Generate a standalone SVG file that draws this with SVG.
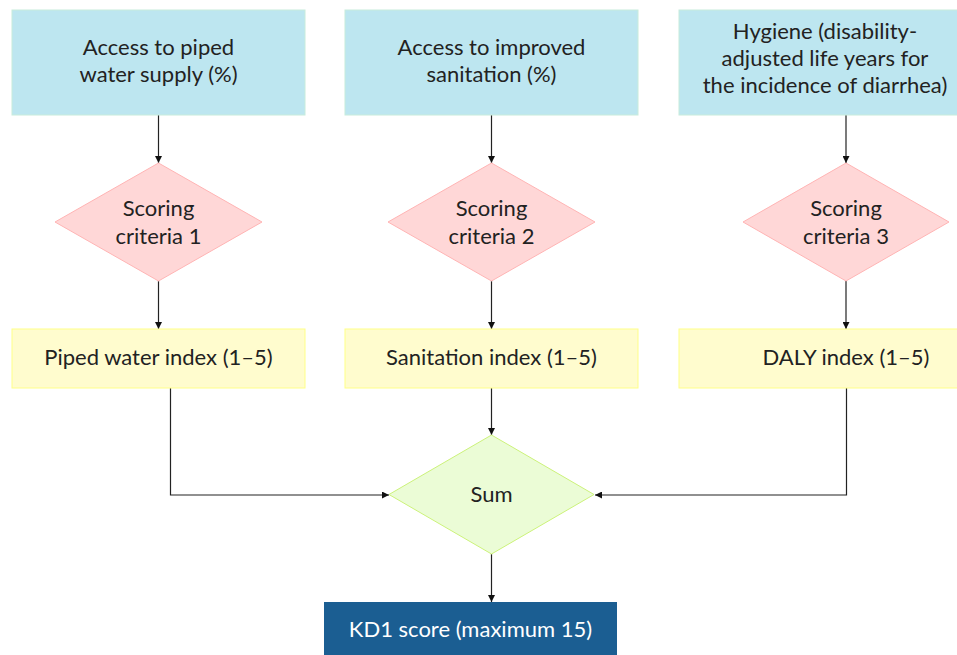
<svg xmlns="http://www.w3.org/2000/svg" width="957" height="655" viewBox="0 0 957 655">
<style>
.t{font-family:Lato,"Open Sans","Liberation Sans",sans-serif;font-size:22px;fill:#222;text-anchor:middle}
.w{fill:#fff}
.src{fill:#bde6f0;stroke:#c8ecdc;stroke-width:1}
.dia{fill:#ffd7d7;stroke:#ffb4b4;stroke-width:1}
.idx{fill:#fffcce;stroke:#ffff88;stroke-width:1}
.sum{fill:#ebfcd6;stroke:#ccf27a;stroke-width:1}
.res{fill:#1b5e92}
.c{fill:none;stroke:#222;stroke-width:1.2}
</style>
<defs>
<marker id="ah" viewBox="0 0 10 10" refX="10" refY="5" markerWidth="7" markerHeight="7" markerUnits="userSpaceOnUse" orient="auto">
<path d="M0,0L10,5L0,10z" fill="#111"/>
</marker>
</defs>
<rect width="957" height="655" fill="#fff"/>
<g id="connectors">
<path class="c" d="M158.5,115V163" marker-end="url(#ah)"/>
<path class="c" d="M491.5,115V163" marker-end="url(#ah)"/>
<path class="c" d="M846,115V163" marker-end="url(#ah)"/>
<path class="c" d="M158.5,281V329" marker-end="url(#ah)"/>
<path class="c" d="M491.5,281V329" marker-end="url(#ah)"/>
<path class="c" d="M846,281V329" marker-end="url(#ah)"/>
<path class="c" d="M170.5,388V495H389" marker-end="url(#ah)"/>
<path class="c" d="M491.5,388V435" marker-end="url(#ah)"/>
<path class="c" d="M846.5,388V495H595" marker-end="url(#ah)"/>
<path class="c" d="M491.5,554V602" marker-end="url(#ah)"/>
</g>
<g id="src1">
<rect class="src" x="12" y="10" width="293" height="105"/>
<text class="t" x="158.5" y="55">Access to piped</text>
<text class="t" x="158.5" y="82">water supply (%)</text>
</g>
<g id="src2">
<rect class="src" x="345" y="10" width="293" height="105"/>
<text class="t" x="491.5" y="55">Access to improved</text>
<text class="t" x="491.5" y="82">sanitation (%)</text>
</g>
<g id="src3">
<rect class="src" x="679" y="10" width="293" height="105"/>
<text class="t" x="825" y="39">Hygiene (disability-</text>
<text class="t" x="825" y="66">adjusted life years for</text>
<text class="t" x="825" y="93">the incidence of diarrhea)</text>
</g>
<g id="crit1">
<polygon class="dia" points="158.5,163 262,222 158.5,281 55,222"/>
<text class="t" x="158.5" y="216">Scoring</text>
<text class="t" x="158.5" y="244">criteria 1</text>
</g>
<g id="crit2">
<polygon class="dia" points="491.5,163 595,222 491.5,281 388,222"/>
<text class="t" x="491.5" y="216">Scoring</text>
<text class="t" x="491.5" y="244">criteria 2</text>
</g>
<g id="crit3">
<polygon class="dia" points="846,163 949,222 846,281 743,222"/>
<text class="t" x="846" y="216">Scoring</text>
<text class="t" x="846" y="244">criteria 3</text>
</g>
<g id="idx1">
<rect class="idx" x="12" y="329" width="293" height="59"/>
<text class="t" x="158.5" y="365">Piped water index (1–5)</text>
</g>
<g id="idx2">
<rect class="idx" x="345" y="329" width="293" height="59"/>
<text class="t" x="491.5" y="365">Sanitation index (1–5)</text>
</g>
<g id="idx3">
<rect class="idx" x="679" y="329" width="293" height="59"/>
<text class="t" x="846" y="365">DALY index (1–5)</text>
</g>
<g id="sum">
<polygon class="sum" points="491.5,435 594,494.5 491.5,554 389,494.5"/>
<text class="t" x="491.5" y="502">Sum</text>
</g>
<g id="kd1">
<rect class="res" x="324" y="602" width="293" height="53"/>
<text class="t w" x="470.5" y="637">KD1 score (maximum 15)</text>
</g>
</svg>
